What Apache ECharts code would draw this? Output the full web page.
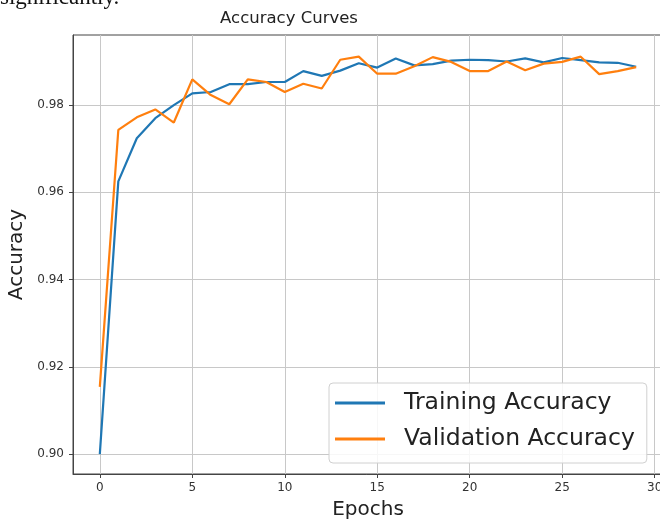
<!DOCTYPE html>
<html>
<head>
<meta charset="utf-8">
<script src="https://cdn.jsdelivr.net/npm/echarts@6/dist/echarts.min.js"></script>
<style>
html,body{margin:0;padding:0;background:#fff;}
#chart{width:660px;height:521px;}
</style>
</head>
<body>
<div id="chart"></div>
<script>
const epochs = [0,1,2,3,4,5,6,7,8,9,10,11,12,13,14,15,16,17,18,19,20,21,22,23,24,25,26,27,28,29];
const trainAcc = [0.9000,0.9625,0.9724,0.9770,0.9800,0.9827,0.9830,0.9848,0.9848,0.9853,
                  0.9853,0.9878,0.9867,0.9879,0.9896,0.9886,0.9907,0.9891,0.9894,0.9902,
                  0.9904,0.9903,0.9900,0.9907,0.9898,0.9908,0.9903,0.9898,0.9897,0.9888];
const valAcc   = [0.9154,0.9743,0.9772,0.9790,0.9760,0.9859,0.9823,0.9802,0.9859,0.9853,
                  0.9830,0.9849,0.9838,0.9904,0.9911,0.9872,0.9872,0.9889,0.9910,0.9899,
                  0.9878,0.9878,0.9900,0.9880,0.9895,0.9899,0.9911,0.9871,0.9878,0.9887];
const xTicks = [0,5,10,15,20,25,30];
const yTicks = [0.90,0.92,0.94,0.96,0.98];
const seriesNames = ['Training Accuracy','Validation Accuracy'];

const font = "'DejaVu Sans', sans-serif";
const chart = echarts.init(document.getElementById('chart'), null, {renderer:'canvas'});
chart.setOption({
  animation:false,
  backgroundColor:'#fff',
  graphic:[
    {type:'text', x:0, y:-2, silent:true,
     style:{text:'significantly.', font:"23px 'Liberation Serif', serif", fill:'#111', align:'left', verticalAlign:'middle'}},
    {type:'text', x:289, y:19, silent:true,
     style:{text:'Accuracy Curves', font:"16.5px "+font, fill:'#222', align:'center', verticalAlign:'middle'}}
  ],
  grid:{left:73, top:35, width:590, height:439, outerBoundsMode:'none', containLabel:false,
        show:true, borderColor:'#444', borderWidth:1, backgroundColor:'transparent'},
  legend:{
    orient:'vertical', left:329, top:383,
    data:seriesNames.map(n=>({name:n, icon:'rect'})),
    itemWidth:50, itemHeight:3, itemGap:12,
    padding:[8,12,12,6],
    backgroundColor:'rgba(255,255,255,0.85)', borderColor:'#d0d0d0', borderWidth:1, borderRadius:4,
    textStyle:{fontFamily:font, fontSize:23.5, color:'#222', lineHeight:23, padding:[0,0,0,14]}
  },
  xAxis:{
    type:'value', min:-1.45, max:30.45,
    name:'Epochs', nameLocation:'middle', nameGap:26,
    nameTextStyle:{fontFamily:font, fontSize:20, color:'#222'},
    axisLine:{show:true, onZero:false, lineStyle:{color:'#444', width:1}},
    axisTick:{show:true, length:4, lineStyle:{color:'#444'}, customValues:xTicks},
    axisLabel:{fontFamily:font, fontSize:12, color:'#333', margin:8, customValues:xTicks, formatter:v=>String(v)},
    splitLine:{show:true, lineStyle:{color:'#c8c8c8', width:1}}
  },
  yAxis:{
    type:'value', min:0.89543, max:0.99607,
    name:'Accuracy', nameLocation:'middle', nameGap:46, nameRotate:90,
    nameTextStyle:{fontFamily:font, fontSize:20, color:'#222'},
    axisLine:{show:true, onZero:false, lineStyle:{color:'#444', width:1}},
    axisTick:{show:true, length:4, lineStyle:{color:'#444'}, customValues:yTicks},
    axisLabel:{fontFamily:font, fontSize:12, color:'#333', margin:9, customValues:yTicks, formatter:v=>v.toFixed(2)},
    splitLine:{show:true, lineStyle:{color:'#c8c8c8', width:1}}
  },
  series:[
    {name:seriesNames[0], type:'line', symbol:'none', data:epochs.map((e,i)=>[e,trainAcc[i]]),
     lineStyle:{color:'#1f77b4', width:2.2}, itemStyle:{color:'#1f77b4'}},
    {name:seriesNames[1], type:'line', symbol:'none', data:epochs.map((e,i)=>[e,valAcc[i]]),
     lineStyle:{color:'#ff7f0e', width:2.2}, itemStyle:{color:'#ff7f0e'}}
  ]
});
</script>
</body>
</html>
